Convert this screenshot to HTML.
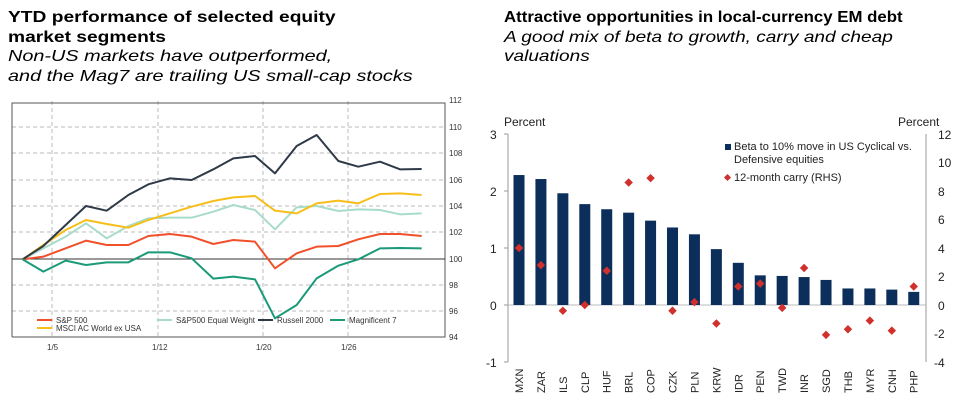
<!DOCTYPE html>
<html><head><meta charset="utf-8"><style>
body{margin:0;width:970px;height:405px;background:#fff;font-family:"Liberation Sans",sans-serif;overflow:hidden;position:relative}
.t{position:absolute;font-size:16px;line-height:19.5px;color:#000}
.t span{display:block;white-space:nowrap;transform-origin:0 50%}
.b{font-weight:bold}
.i{font-style:italic}
svg{position:absolute;left:0;top:0}
</style></head><body>
<div class="t" style="left:8px;top:8px">
<span class="b" style="transform:scaleX(1.2)">YTD performance of selected equity</span>
<span class="b" style="transform:scaleX(1.2)">market segments</span>
<span class="i" style="transform:scaleX(1.24)">Non-US markets have outperformed,</span>
<span class="i" style="transform:scaleX(1.24)">and the Mag7 are trailing US small-cap stocks</span>
</div>
<div class="t" style="left:504px;top:8px">
<span class="b" style="transform:scaleX(1.05)">Attractive opportunities in local-currency EM debt</span>
<span class="i" style="transform:scaleX(1.19)">A good mix of beta to growth, carry and cheap</span>
<span class="i" style="transform:scaleX(1.19)">valuations</span>
</div>
<svg width="970" height="405" viewBox="0 0 970 405">
<g stroke="#bbb" stroke-width="1" stroke-dasharray="4,3" fill="none">
<line x1="12" y1="127" x2="445" y2="127"/><line x1="12" y1="153" x2="445" y2="153"/><line x1="12" y1="180" x2="445" y2="180"/><line x1="12" y1="206" x2="445" y2="206"/><line x1="12" y1="232" x2="445" y2="232"/><line x1="12" y1="285" x2="445" y2="285"/><line x1="12" y1="311" x2="445" y2="311"/>
<line x1="52" y1="101" x2="52" y2="337"/><line x1="158" y1="101" x2="158" y2="337"/><line x1="263" y1="101" x2="263" y2="337"/><line x1="348" y1="101" x2="348" y2="337"/>
</g>
<g stroke="#555" stroke-width="1" fill="none">
<polyline points="12,337 12,103 445,103 445,337 12,337"/>
<line x1="12" y1="259" x2="445" y2="259" stroke="#333"/>
</g>
<g font-size="8" fill="#333">
<text x="449" y="103">112</text><text x="449" y="130">110</text><text x="449" y="156">108</text><text x="449" y="183">106</text><text x="449" y="209">104</text><text x="449" y="235">102</text><text x="449" y="262">100</text><text x="449" y="288">98</text><text x="449" y="314">96</text><text x="449" y="340">94</text>
<text x="47" y="350">1/5</text><text x="152" y="350">1/12</text><text x="256" y="350">1/20</text><text x="341" y="350">1/26</text>
</g>
<g transform="translate(0,90) scale(0.33333)" fill="none" stroke-width="6" stroke-linejoin="round">
<polyline stroke="#a9dcc8" points="68,508 130,475 197,440 258,400 320,445 385,408 445,385 510,383 575,383 640,365 700,345 765,360 825,418 890,352 950,348 1015,363 1075,358 1140,360 1200,373 1265,370"/>
<polyline stroke="#f0502a" points="68,508 130,500 197,475 258,452 320,465 385,465 445,438 510,432 575,440 640,462 700,450 765,455 825,535 890,490 950,470 1015,468 1075,448 1140,432 1200,432 1265,438"/>
<polyline stroke="#f7be1a" points="68,508 130,465 197,420 258,390 320,402 385,413 445,390 510,370 575,350 640,333 700,322 765,318 825,362 890,370 950,340 1015,332 1075,340 1140,312 1200,310 1265,315"/>
<polyline stroke="#2f3a48" points="68,508 130,468 197,405 258,348 320,362 385,315 445,283 510,265 575,270 640,238 700,205 765,198 825,250 890,168 950,135 1015,213 1075,230 1140,215 1200,238 1265,237"/>
<polyline stroke="#1a9a78" points="68,508 130,545 197,512 258,525 320,517 385,517 445,487 510,487 575,505 640,566 700,560 765,568 825,685 890,645 950,565 1015,527 1075,508 1140,475 1200,474 1265,475"/>
</g>
<g font-size="8" fill="#333">
<line x1="37" y1="320" x2="52" y2="320" stroke="#f0502a" stroke-width="2"/><text x="56" y="323">S&amp;P 500</text>
<line x1="37" y1="328" x2="52" y2="328" stroke="#f7be1a" stroke-width="2"/><text x="56" y="331">MSCI AC World ex USA</text>
<line x1="157" y1="320" x2="172" y2="320" stroke="#a9dcc8" stroke-width="2"/><text x="176" y="323">S&amp;P500 Equal Weight</text>
<line x1="258" y1="320" x2="273" y2="320" stroke="#2f3a48" stroke-width="2"/><text x="277" y="323">Russell 2000</text>
<line x1="330" y1="320" x2="345" y2="320" stroke="#1a9a78" stroke-width="2"/><text x="349" y="323">Magnificent 7</text>
</g>
<g stroke="#999" stroke-width="1" fill="none">
<line x1="508" y1="134" x2="508" y2="362"/><line x1="926" y1="134" x2="926" y2="362"/>
<line x1="508" y1="305" x2="926" y2="305" stroke="#bbb"/>
<line x1="504" y1="134" x2="508" y2="134"/><line x1="504" y1="191" x2="508" y2="191"/><line x1="504" y1="248" x2="508" y2="248"/><line x1="504" y1="305" x2="508" y2="305"/><line x1="504" y1="362" x2="508" y2="362"/>
</g>
<g font-size="12" fill="#222">
<text x="504" y="126">Percent</text><text x="898" y="126">Percent</text>
<text x="490" y="139">3</text><text x="490" y="196">2</text><text x="490" y="253">1</text><text x="490" y="310">0</text><text x="486" y="367">-1</text>
<text x="938" y="139">12</text><text x="938" y="167">10</text><text x="938" y="196">8</text><text x="938" y="224">6</text><text x="938" y="253">4</text><text x="938" y="281">2</text><text x="938" y="310">0</text><text x="934" y="338">-2</text><text x="934" y="367">-4</text>
</g>
<g fill="#0b2e5a" id="bars"></g>
<g fill="#d0312d" id="dia"></g>
<g font-size="11" fill="#222" id="lab"></g>
<rect x="725" y="144" width="6" height="6" fill="#0b2e5a"/>
<text x="734" y="150" font-size="11" fill="#222">Beta to 10% move in US Cyclical vs.</text>
<text x="734" y="163" font-size="11" fill="#222">Defensive equities</text>
<rect x="725" y="175" width="5" height="5" fill="#d0312d" transform="rotate(45 727.5 177.5)"/>
<text x="734" y="181" font-size="11" fill="#222">12-month carry (RHS)</text>
</svg>
<script>
var b=[2.28,2.21,1.96,1.77,1.68,1.62,1.48,1.36,1.24,0.98,0.74,0.52,0.51,0.49,0.44,0.29,0.29,0.27,0.23];
var c=[4.0,2.8,-0.4,0.0,2.4,8.6,8.9,-0.4,0.2,-1.3,1.3,1.5,-0.2,2.6,-2.1,-1.7,-1.1,-1.8,1.3];
var l=["MXN","ZAR","ILS","CLP","HUF","BRL","COP","CZK","PLN","KRW","IDR","PEN","TWD","INR","SGD","THB","MYR","CNH","PHP"];
var ns="http://www.w3.org/2000/svg",B=document.getElementById("bars"),D=document.getElementById("dia"),L=document.getElementById("lab");
for(var i=0;i<19;i++){var x=519+i*21.93;
var r=document.createElementNS(ns,"rect");r.setAttribute("x",x-5.5);r.setAttribute("width",11);r.setAttribute("y",305-b[i]*57);r.setAttribute("height",b[i]*57);B.appendChild(r);
var y=305-c[i]*14.25;var d=document.createElementNS(ns,"rect");d.setAttribute("x",x-3);d.setAttribute("y",y-3);d.setAttribute("width",6);d.setAttribute("height",6);d.setAttribute("transform","rotate(45 "+x+" "+y+")");D.appendChild(d);
var t=document.createElementNS(ns,"text");t.setAttribute("transform","translate("+(x+4)+",393) rotate(-90)");t.textContent=l[i];L.appendChild(t);}
</script>
</body></html>
